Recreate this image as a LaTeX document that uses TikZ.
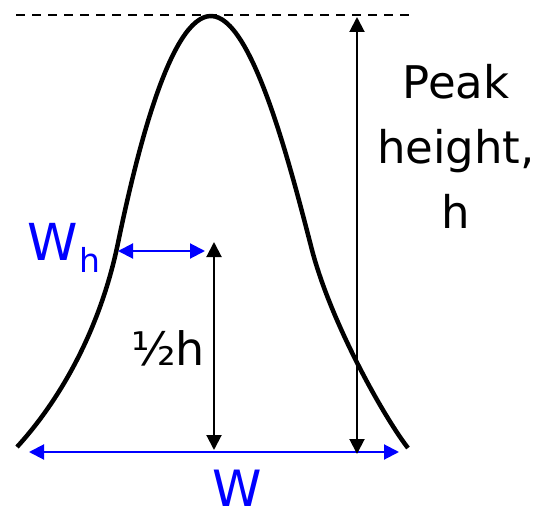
\documentclass[tikz,border=0pt]{standalone}
\usepackage{fontspec}
\setmainfont{DejaVu Sans}
\usetikzlibrary{arrows.meta}

\begin{document}
\begin{tikzpicture}[x=1pt,y=-1pt,every node/.style={inner sep=0pt},
  dblarrow/.style={{Triangle[length=15pt,width=15pt]}-{Triangle[length=15pt,width=15pt]},line width=2pt},
  peakline/.style={line width=4.5pt,line join=round},
  biglbl/.style={font=\fontsize{51}{51}\selectfont,text=blue}]
  \useasboundingbox (0,0) rectangle (544,508);
  \draw[peakline] (17,447) .. controls (60,400) and (100,330) .. (118,243)
    .. controls (136,156) and (170,16) .. (211,16)
    .. controls (252,16) and (290,165) .. (312,250)
    .. controls (332,326) and (386,420) .. (408,448);
  \coordinate (dl) at (16,15);
  \coordinate (dr) at (416,15);
  \draw[line width=2pt,dash pattern=on 9pt off 7pt] (dl) -- (dr);
  \coordinate (wl) at (29,452);
  \coordinate (wr) at (399,452);
  \coordinate (whl) at (118,251);
  \coordinate (whr) at (205,251);
  \foreach \a/\b in {wl/wr, whl/whr}
    \draw[dblarrow,blue] (\a) -- (\b);
  \coordinate (htop) at (357,17);
  \coordinate (hbot) at (357,454);
  \coordinate (mtop) at (214,242);
  \coordinate (mbot) at (214,450);
  \foreach \a/\b in {hbot/htop, mbot/mtop}
    \draw[dblarrow] (\a) -- (\b);
  \node[font=\fontsize{45}{65}\selectfont,align=center,anchor=north] (peakh) at (456,64) {Peak\\height,\\h};
  \node[biglbl,anchor=base west] (wh) at (27,260) {W\kern2pt\raisebox{-13pt}{\fontsize{33}{33}\selectfont h}};
  \node[biglbl,font=\fontsize{50}{50}\selectfont,anchor=base] (wlab) at (237,506) {W};
  \node[font=\fontsize{46}{46}\selectfont,anchor=base] (half) at (168,365) {½h};
\end{tikzpicture}
\end{document}
